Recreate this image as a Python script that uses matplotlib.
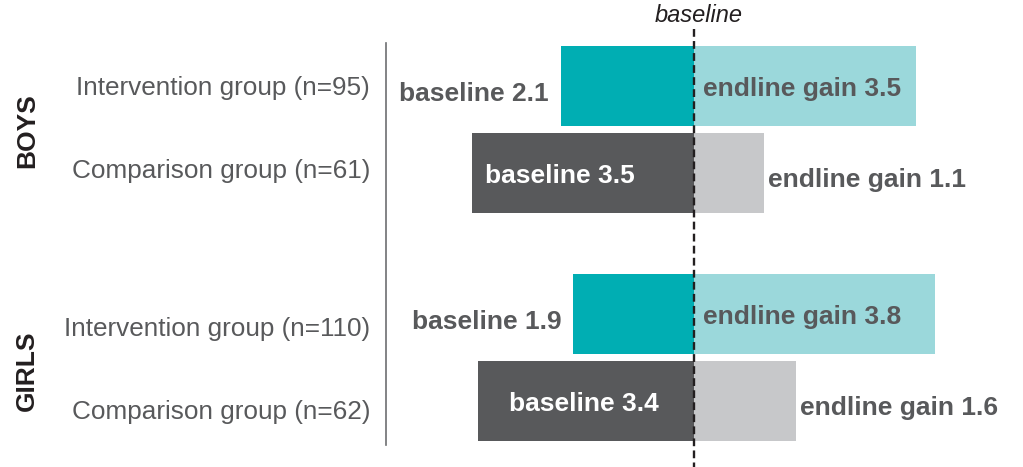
import matplotlib.pyplot as plt

plt.rcParams['font.family'] = ['Liberation Sans', 'DejaVu Sans']

# scores per group
groups = ['Intervention group (n=95)', 'Comparison group (n=61)',
          'Intervention group (n=110)', 'Comparison group (n=62)']
sexes = ['BOYS', 'GIRLS']
baseline = [2.1, 3.5, 1.9, 3.4]
gain = [3.5, 1.1, 3.8, 1.6]

# layout (pixel-like units, y grows downward)
W, H = 1023, 467
x0 = 694          # where the zero line sits
scale = 63.5      # px per score point
ypos = [86, 173, 314, 401]
bar_h = 80

base_col = ['#00aeb3', '#58595b', '#00aeb3', '#58595b']
gain_col = ['#9bd8db', '#c7c8ca', '#9bd8db', '#c7c8ca']
dark = '#58595b'

fig = plt.figure(figsize=(W / 100, H / 100), dpi=100)
ax = fig.add_axes([0, 0, 1, 1])
ax.set_xlim(-x0 / scale, (W - x0) / scale)
ax.set_ylim(H, 0)
ax.axis('off')

ax.barh(ypos, [-b for b in baseline], height=bar_h, color=base_col, linewidth=0)
ax.barh(ypos, gain, height=bar_h, color=gain_col, linewidth=0)

px = 1 / scale  # one pixel in x data units

# baseline labels: outside for the intervention rows, inside for comparison
for i, b in enumerate(baseline):
    txt = f'baseline {b}'
    if i % 2 == 0:
        ax.text(-b - 12 * px, ypos[i] + 8, txt, ha='right', va='center',
                fontsize=19, fontweight='bold', color=dark)
    else:
        ax.text(-b + (13 if i == 1 else 31) * px, ypos[i] + 3, txt, ha='left',
                va='center', fontsize=19, fontweight='bold', color='white')

# gain labels: inside for intervention, right of bar for comparison
for i, g in enumerate(gain):
    txt = f'endline gain {g}'
    if i % 2 == 0:
        ax.text(9 * px, ypos[i] + 3, txt, ha='left', va='center',
                fontsize=19, fontweight='bold', color=dark)
    else:
        ax.text(g + 4 * px, ypos[i] + 7, txt, ha='left', va='center',
                fontsize=19, fontweight='bold', color=dark)

# group names on the left
for y, name in zip([88, 171, 329, 412], groups):
    ax.text((370 - x0) * px, y, name, ha='right', va='center',
            fontsize=18.8, color=dark)

for y, s in zip([131, 371], sexes):
    ax.text((27 - x0) * px, y, s, ha='center', va='center', rotation=90,
            fontsize=19, fontweight='bold', color='#231f20')

# separator and zero line
ax.plot([(386 - x0) * px] * 2, [43, 445], color='#6d6e71', lw=1.2)
ax.plot([0, 0], [29, H], color='#231f20', lw=1.7, dashes=(3.3, 1.8))
ax.text(5 * px, 16, 'baseline', ha='center', va='center', fontsize=17,
        fontstyle='italic', color='#231f20')

fig.savefig('out.png', dpi=100)
